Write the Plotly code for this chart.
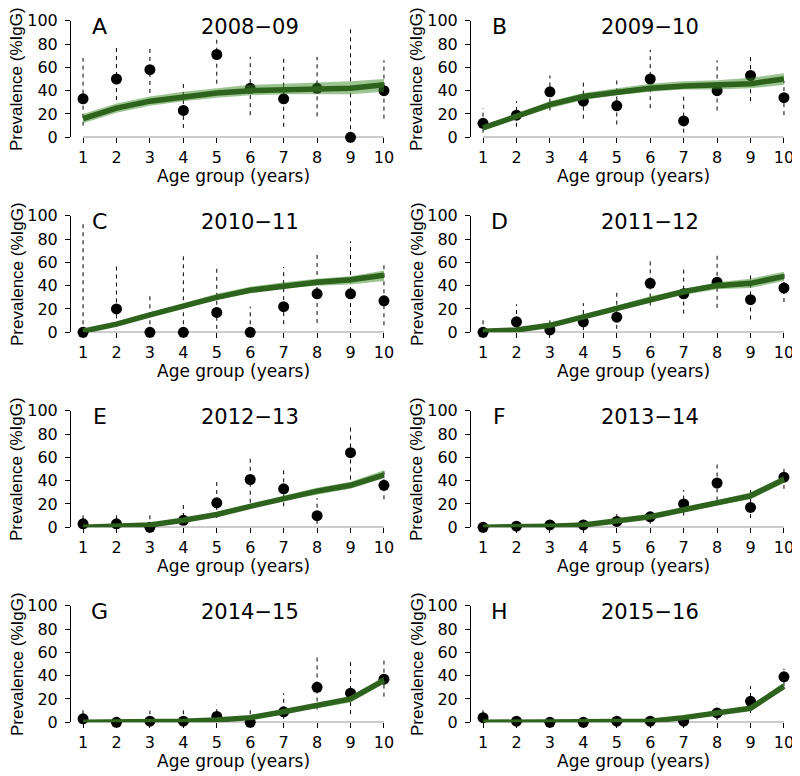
import plotly.graph_objects as go

# ---------------- data ----------------
ages = [1, 2, 3, 4, 5, 6, 7, 8, 9, 10]
y_ticks = [0, 20, 40, 60, 80, 100]
letters = ["A", "B", "C", "D", "E", "F", "G", "H"]
seasons = ["2008−09", "2009−10", "2010−11", "2011−12",
           "2012−13", "2013−14", "2014−15", "2015−16"]

prev_A = [33, 50, 58, 23, 71, 42, 33, 42, 0, 40]
ci_lo_A = [10, 32, 38, 8, 46, 19, 9, 18, 0, 16]
ci_hi_A = [68, 79, 77, 48, 86, 69, 68, 69, 95, 66]
fit_A = [16, 25, 31, 35, 38, 40, 41, 42, 42, 45]
fit_lo_A = [12, 21, 27, 31, 34, 36, 37, 37, 37, 39]
fit_hi_A = [20, 29, 35, 39, 42, 45, 46, 47, 48, 50]

prev_B = [12, 19, 39, 31, 27, 50, 14, 40, 53, 34]
ci_lo_B = [4, 9, 23, 16, 11, 25, 4, 23, 31, 19]
ci_hi_B = [25, 31, 53, 49, 51, 75, 35, 66, 72, 48]
fit_B = [8, 18, 28, 35, 39, 42, 44, 45, 46, 50]
fit_lo_B = [6, 16, 25, 32, 36, 39, 41, 41, 42, 45]
fit_hi_B = [10, 20, 31, 38, 42, 46, 48, 49, 51, 55]

prev_C = [0, 20, 0, 0, 17, 0, 22, 33, 33, 27]
ci_lo_C = [0, 5, 0, 0, 3, 0, 7, 8, 8, 6]
ci_hi_C = [93, 59, 31, 68, 58, 22, 56, 68, 78, 58]
fit_C = [1, 7, 15, 23, 30, 36, 40, 43, 45, 49]
fit_lo_C = [0, 6, 13, 21, 28, 34, 38, 40, 41, 44]
fit_hi_C = [2, 8, 17, 25, 33, 39, 43, 46, 48, 53]

prev_D = [0, 9, 2, 9, 13, 42, 33, 43, 28, 38]
ci_lo_D = [0, 2, 0, 2, 3, 23, 16, 21, 11, 26]
ci_hi_D = [13, 24, 13, 25, 35, 63, 56, 69, 52, 53]
fit_D = [1, 2, 6, 13, 21, 28, 35, 40, 42, 48]
fit_lo_D = [0, 1, 5, 12, 19, 26, 32, 37, 38, 44]
fit_hi_D = [2, 3, 7, 14, 23, 31, 37, 43, 46, 52]

prev_E = [3, 3, 0, 6, 21, 41, 33, 10, 64, 36]
ci_lo_E = [0, 0, 0, 2, 8, 21, 18, 3, 41, 24]
ci_hi_E = [12, 13, 11, 20, 41, 62, 49, 25, 86, 49]
fit_E = [0, 1, 2, 6, 11, 18, 25, 31, 36, 45]
fit_lo_E = [0, 0, 1, 5, 10, 16, 23, 28, 33, 42]
fit_hi_E = [1, 1, 3, 7, 12, 20, 27, 34, 39, 49]

prev_F = [0, 1, 2, 2, 5, 9, 20, 38, 17, 43]
ci_lo_F = [0, 0, 0, 0, 1, 3, 10, 23, 8, 33]
ci_hi_F = [3, 4, 5, 7, 14, 16, 32, 54, 35, 53]
fit_F = [0, 0, 1, 2, 5, 9, 15, 21, 27, 41]
fit_lo_F = [0, 0, 0, 1, 4, 8, 13, 19, 24, 38]
fit_hi_F = [1, 1, 1, 2, 6, 10, 17, 23, 30, 44]

prev_G = [3, 0, 1, 1, 5, 0, 9, 30, 25, 37]
ci_lo_G = [0, 0, 0, 0, 1, 0, 3, 11, 7, 22]
ci_hi_G = [12, 3, 10, 11, 15, 12, 25, 59, 55, 53]
fit_G = [0, 0, 0, 1, 2, 4, 9, 14, 20, 36]
fit_lo_G = [0, 0, 0, 0, 1, 3, 8, 12, 17, 33]
fit_hi_G = [1, 1, 1, 1, 3, 5, 10, 16, 22, 39]

prev_H = [4, 1, 0, 0, 1, 1, 1, 8, 18, 39]
ci_lo_H = [0, 0, 0, 0, 0, 0, 0, 2, 8, 31]
ci_hi_H = [13, 4, 3, 2, 4, 4, 4, 16, 31, 46]
fit_H = [0, 0, 0, 0, 1, 1, 4, 8, 12, 31]
fit_lo_H = [0, 0, 0, 0, 0, 1, 3, 7, 10, 28]
fit_hi_H = [1, 1, 1, 1, 1, 2, 5, 9, 14, 34]

panels = [
    (prev_A, ci_lo_A, ci_hi_A, fit_A, fit_lo_A, fit_hi_A),
    (prev_B, ci_lo_B, ci_hi_B, fit_B, fit_lo_B, fit_hi_B),
    (prev_C, ci_lo_C, ci_hi_C, fit_C, fit_lo_C, fit_hi_C),
    (prev_D, ci_lo_D, ci_hi_D, fit_D, fit_lo_D, fit_hi_D),
    (prev_E, ci_lo_E, ci_hi_E, fit_E, fit_lo_E, fit_hi_E),
    (prev_F, ci_lo_F, ci_hi_F, fit_F, fit_lo_F, fit_hi_F),
    (prev_G, ci_lo_G, ci_hi_G, fit_G, fit_lo_G, fit_hi_G),
    (prev_H, ci_lo_H, ci_hi_H, fit_H, fit_lo_H, fit_hi_H),
]

# ---------------- style ----------------
# The page body has an 8px default margin, so the figure is sized to
# fill the remaining 792x768 area of the 800x776 window.
PAGE_OFF = 8
W, H = 800 - PAGE_OFF, 776 - PAGE_OFF
FONT = "DejaVu Sans, Liberation Sans, Arial, sans-serif"
LINE_COL = "#2d631d"
RIB_COL = "rgba(60,140,40,0.5)"

fig = go.Figure()
span = max(ages) - min(ages)
xr = [min(ages) - 0.04 * span, max(ages) + 0.04 * span]

for i, (prev, lo, hi, fit, flo, fhi) in enumerate(panels):
    r, c = divmod(i, 2)
    sfx = "" if i == 0 else str(i + 1)
    xa, ya = "x" + sfx, "y" + sfx

    left = 71.0 + 400 * c - PAGE_OFF
    right = 396.0 + 400 * c - PAGE_OFF
    top = 20.7 + 195 * r - PAGE_OFF
    bottom = 137.3 + 195 * r - PAGE_OFF

    fig.layout["xaxis" + sfx] = dict(
        domain=[left / W, right / W], anchor=ya, range=xr, automargin=False,
        tickmode="array", tickvals=ages, ticktext=[str(a) for a in ages],
        ticks="outside", ticklen=5, tickwidth=1, tickcolor="black",
        showline=False, showgrid=False, zeroline=False,
        tickfont=dict(family=FONT, size=16, color="black"),
    )
    fig.layout["yaxis" + sfx] = dict(
        domain=[1 - bottom / H, 1 - top / H], anchor=xa, range=[0, 100],
        automargin=False,
        tickmode="array", tickvals=y_ticks,
        ticks="outside", ticklen=5, tickwidth=1, tickcolor="black",
        showline=True, linecolor="black", linewidth=1,
        showgrid=False, zeroline=False, ticklabelstandoff=4,
        tickfont=dict(family=FONT, size=16, color="black"),
    )

    # dashed confidence bars
    ex, ey = [], []
    for a, l, h in zip(ages, lo, hi):
        ex += [a, a, None]
        ey += [l, h, None]
    fig.add_trace(go.Scatter(
        x=ex, y=ey, mode="lines", xaxis=xa, yaxis=ya,
        line=dict(color="black", width=1, dash="4px,4px"),
        hoverinfo="skip", showlegend=False, cliponaxis=False))
    # observed points
    fig.add_trace(go.Scatter(
        x=ages, y=prev, mode="markers", xaxis=xa, yaxis=ya,
        marker=dict(color="black", size=11), showlegend=False,
        cliponaxis=False))
    # model ribbon
    fig.add_trace(go.Scatter(
        x=ages, y=fhi, mode="lines", xaxis=xa, yaxis=ya,
        line=dict(width=0, color=RIB_COL), showlegend=False,
        hoverinfo="skip", cliponaxis=False))
    fig.add_trace(go.Scatter(
        x=ages, y=flo, mode="lines", xaxis=xa, yaxis=ya, fill="tonexty",
        fillcolor=RIB_COL, line=dict(width=0, color=RIB_COL),
        showlegend=False, hoverinfo="skip", cliponaxis=False))
    # model line
    fig.add_trace(go.Scatter(
        x=ages, y=fit, mode="lines", xaxis=xa, yaxis=ya,
        line=dict(color=LINE_COL, width=5.5), showlegend=False,
        cliponaxis=False))

    # x axis line spanning first to last tick (R style)
    fig.add_shape(type="line", xref=xa, yref=ya,
                  x0=min(ages), x1=max(ages), y0=0, y1=0,
                  line=dict(color="black", width=1), layer="below")

    # panel letter and season
    fig.add_annotation(x=1.5, y=95, xref=xa, yref=ya, text=letters[i],
                       showarrow=False, xanchor="center", yanchor="middle",
                       font=dict(family=FONT, size=22, color="black"))
    fig.add_annotation(x=6, y=95, xref=xa, yref=ya, text=seasons[i],
                       showarrow=False, xanchor="center", yanchor="middle",
                       font=dict(family=FONT, size=21, color="black"))
    # axis titles
    fig.add_annotation(x=5.5, y=0, xref=xa, yref=ya + " domain",
                       text="Age group (years)", showarrow=False,
                       xanchor="center", yanchor="middle", yshift=-39,
                       font=dict(family=FONT, size=17, color="black"))
    fig.add_annotation(x=0, y=0.5, xref=xa + " domain", yref=ya + " domain",
                       text="Prevalence (%IgG)", showarrow=False,
                       textangle=-90, xanchor="center", yanchor="middle",
                       xshift=-54,
                       font=dict(family="Liberation Sans, Arial, sans-serif",
                                 size=17, color="black"))

fig.update_layout(
    width=W, height=H, margin=dict(l=0, r=0, t=0, b=0),
    paper_bgcolor="white", plot_bgcolor="white", showlegend=False,
)

fig.write_html("out.html")
